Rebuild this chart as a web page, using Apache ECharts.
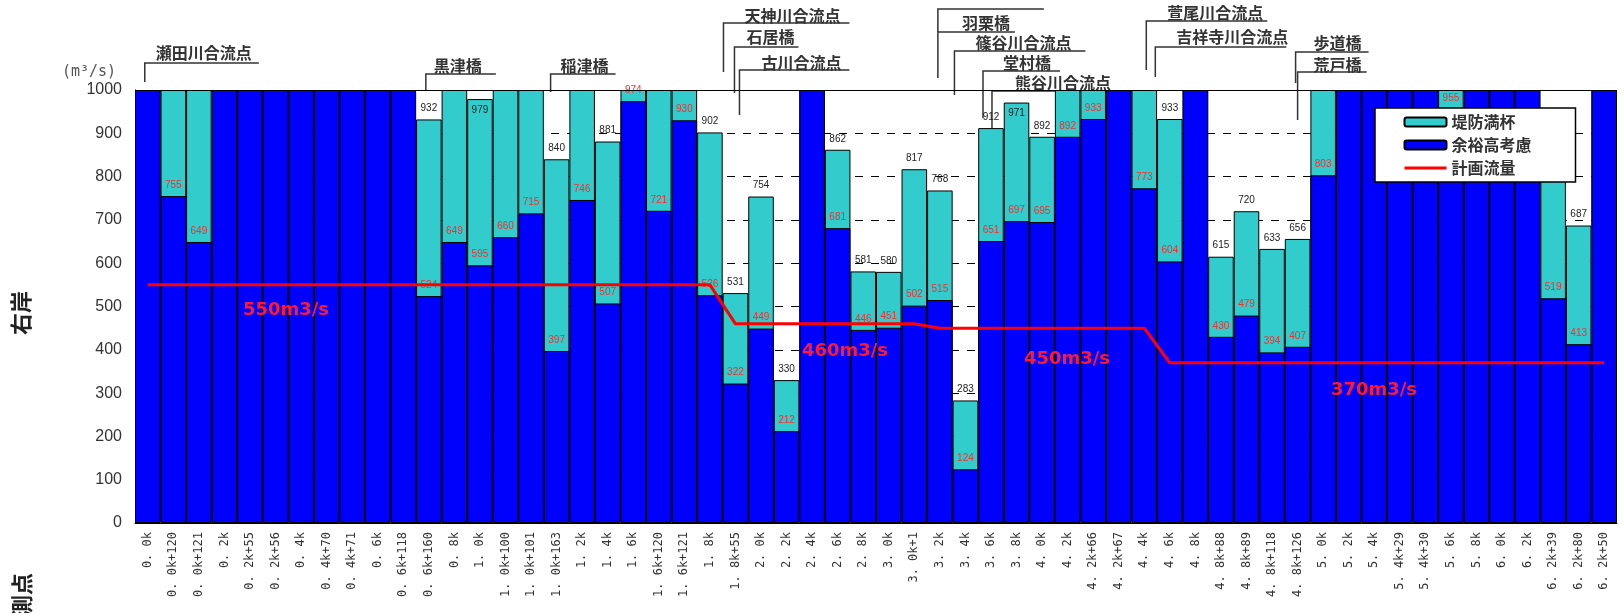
<!DOCTYPE html>
<html>
<head>
<meta charset="utf-8">
<title>右岸 流下能力</title>
<script src="https://cdn.jsdelivr.net/npm/echarts@6/dist/echarts.min.js"></script>
<style>
html, body { margin: 0; padding: 0; background: #fff; }
#main { width: 1624px; height: 613px; }
</style>
</head>
<body>
<div id="main"></div>
<script>
// 測点
var categories = ['0. 0k', '0. 0k+120', '0. 0k+121', '0. 2k', '0. 2k+55', '0. 2k+56', '0. 4k', '0. 4k+70', '0. 4k+71',
    '0. 6k', '0. 6k+118', '0. 6k+160', '0. 8k', '1. 0k', '1. 0k+100', '1. 0k+101', '1. 0k+163', '1. 2k', '1. 4k',
    '1. 6k', '1. 6k+120', '1. 6k+121', '1. 8k', '1. 8k+55', '2. 0k', '2. 2k', '2. 4k', '2. 6k', '2. 8k', '3. 0k',
    '3. 0k+1', '3. 2k', '3. 4k', '3. 6k', '3. 8k', '4. 0k', '4. 2k', '4. 2k+66', '4. 2k+67', '4. 4k', '4. 6k',
    '4. 8k', '4. 8k+88', '4. 8k+89', '4. 8k+118', '4. 8k+126', '5. 0k', '5. 2k', '5. 4k', '5. 4k+29', '5. 4k+30',
    '5. 6k', '5. 8k', '6. 0k', '6. 2k', '6. 2k+39', '6. 2k+80', '6. 2k+50'];

// 余裕高考慮 (1000 = 図の上限を超える)
var yoyuValues = [1000, 755, 649, 1000, 1000, 1000, 1000, 1000, 1000,
    1000, 1000, 524, 649, 595, 660, 715, 397, 746, 507,
    974, 721, 930, 526, 322, 449, 212, 1000, 681, 446, 451,
    502, 515, 124, 651, 697, 695, 892, 933, 1000, 773, 604,
    1000, 430, 479, 394, 407, 803, 1000, 1000, 1000, 1000,
    955, 1000, 1000, 1000, 519, 413, 1000];

// 堤防満杯
var manpaiValues = [1000, 1000, 1000, 1000, 1000, 1000, 1000, 1000, 1000,
    1000, 1000, 932, 1000, 979, 1000, 1000, 840, 1000, 881,
    1000, 1000, 1000, 902, 531, 754, 330, 1000, 862, 581, 580,
    817, 768, 283, 912, 971, 892, 1000, 1000, 1000, 1000, 933,
    1000, 615, 720, 633, 656, 1000, 1000, 1000, 1000, 1000,
    1000, 1000, 1000, 1000, 870, 687, 1000];

// 計画流量
var planValues = [550, 550, 550, 550, 550, 550, 550, 550, 550,
    550, 550, 550, 550, 550, 550, 550, 550, 550, 550,
    550, 550, 550, 550, 460, 460, 460, 460, 460, 460, 460,
    460, 450, 450, 450, 450, 450, 450, 450, 450, 450, 370,
    370, 370, 370, 370, 370, 370, 370, 370, 370, 370,
    370, 370, 370, 370, 370, 370, 370];

var planTexts = ['550m3/s', '460m3/s', '450m3/s', '370m3/s'];

// 地点名
var noteNames = ['瀬田川合流点', '黒津橋', '稲津橋', '天神川合流点', '石居橋', '古川合流点', '羽栗橋',
    '篠谷川合流点', '堂村橋', '熊谷川合流点', '萱尾川合流点', '吉祥寺川合流点', '歩道橋', '荒戸橋'];
var noteAt = ['0. 0k', '0. 6k+160', '1. 0k+163', '1. 8k+55', '1. 8k+55', '1. 8k+55', '3. 2k',
    '3. 4k', '3. 6k', '3. 6k', '4. 4k', '4. 4k', '4. 8k+126', '4. 8k+126'];

// 注記の配置 (px)
var noteLayout = [
    { dx: -3, y: 63, bottom: 82, len: 114, tx: 59, ty: 53 },
    { dx: -3, y: 74, bottom: 90, len: 70, tx: 32, ty: 66 },
    { dx: -6, y: 74, bottom: 92, len: 65, tx: 34, ty: 66 },
    { dx: -12, y: 23, bottom: 72, len: 126, tx: 69, ty: 16 },
    { dx: -1, y: 47, bottom: 93, len: 64, tx: 36, ty: 37 },
    { dx: 4, y: 70, bottom: 115, len: 110, tx: 62, ty: 63 },
    { dx: -2, y: 32, bottom: 78, len: 77, tx: 48, ty: 23, top: 9, topLen: 106 },
    { dx: -11, y: 51, bottom: 95, len: 131, tx: 69, ty: 43 },
    { dx: -8, y: 71, bottom: 118, len: 77, tx: 44, ty: 63 },
    { dx: 1, y: 91, bottom: 133, len: 128, tx: 71, ty: 83 },
    { dx: 2, y: 21, bottom: 70, len: 121, tx: 69, ty: 13 },
    { dx: 11, y: 47, bottom: 77, len: 131, tx: 77, ty: 37 },
    { dx: -2, y: 52, bottom: 83, len: 73, tx: 42, ty: 43 },
    { dx: 0, y: 72, bottom: 120, len: 69, tx: 40, ty: 65 }
];
var planTextPos = [[286, 310], [845, 351], [1067, 359], [1374, 390]];

var chart = echarts.init(document.getElementById('main'));

var manpaiItems = new Array();
var yoyuItems = new Array();
for (var i = 0; i < categories.length; i++) {
    var m = manpaiValues[i];
    var b = yoyuValues[i];
    manpaiItems.push({
        value : m,
        label : {
            show : m < 1000,
            position : m > 960 ? 'insideTop' : 'top'
        }
    });
    yoyuItems.push({
        value : b,
        label : {
            show : b < 1000 && b < m
        }
    });
}

var option = {
    animation : false,
    backgroundColor : '#fff',
    grid : {
        left : 135,
        right : 7,
        top : 90,
        bottom : 90
    },
    legend : {
        orient : 'vertical',
        left : 1375,
        top : 108,
        padding : [ 6, 44, 6, 28 ],
        itemWidth : 42,
        itemHeight : 9,
        itemGap : 7,
        backgroundColor : '#fff',
        borderColor : '#000',
        borderWidth : 1.5,
        textStyle : {
            fontSize : 16,
            fontWeight : 'bold',
            color : '#333',
            fontFamily : 'Noto Sans CJK JP'
        },
        data : [ '堤防満杯', '余裕高考慮', {
            name : '計画流量',
            itemStyle : { opacity : 0 },
            lineStyle : { color : '#ff0000', width : 3 }
        } ]
    },
    xAxis : [ {
        type : 'category',
        data : categories,
        axisLine : {
            lineStyle : { color : '#000', width : 1 }
        },
        axisTick : { show : false },
        axisLabel : {
            interval : 0,
            rotate : 90,
            margin : 9,
            fontSize : 12,
            color : '#333',
            fontFamily : 'DejaVu Sans Mono'
        }
    } ],
    yAxis : [ {
        type : 'value',
        min : 0,
        max : 1000,
        interval : 100,
        axisLine : {
            show : true,
            lineStyle : { color : '#000' }
        },
        axisTick : { show : false },
        axisLabel : {
            margin : 13,
            fontSize : 16,
            color : '#333',
            fontFamily : 'Liberation Sans',
            formatter : function(v) {
                return String(v);
            }
        },
        splitLine : {
            lineStyle : { color : '#000', type : [ 8, 8 ], width : 1 }
        }
    } ],
    series : [ {
        name : '堤防満杯',
        type : 'bar',
        data : manpaiItems,
        barWidth : '100%',
        barGap : '-100%',
        itemStyle : {
            color : '#33cccc',
            borderColor : '#000',
            borderWidth : 1
        },
        label : {
            distance : 6,
            fontSize : 10,
            color : '#222',
            fontFamily : 'Liberation Sans'
        }
    }, {
        name : '余裕高考慮',
        type : 'bar',
        data : yoyuItems,
        barWidth : '100%',
        barGap : '-100%',
        itemStyle : {
            color : '#0000ff',
            borderColor : '#000',
            borderWidth : 1
        },
        label : {
            position : 'top',
            distance : 6,
            fontSize : 10,
            color : '#ff2a2a',
            fontFamily : 'Liberation Sans'
        },
        markLine : {
            silent : true,
            symbol : 'none',
            label : { show : false },
            lineStyle : { color : '#000', type : 'solid', width : 1 },
            data : [ { yAxis : 1000 } ]
        }
    }, {
        name : '計画流量',
        type : 'line',
        data : planValues,
        symbol : 'none',
        z : 5,
        lineStyle : { color : '#ff0000', width : 3 },
        itemStyle : { color : '#ff0000' }
    } ]
};
chart.setOption(option);

/** 注記・文字 */
function drawNotes() {
    var els = new Array();
    for (var i = 0; i < noteNames.length; i++) {
        var lay = noteLayout[i];
        var x = chart.convertToPixel({ xAxisIndex : 0 }, noteAt[i]) + lay.dx;
        els.push({
            type : 'polyline',
            silent : true,
            shape : { points : [ [ x, lay.bottom ], [ x, lay.y ], [ x + lay.len, lay.y ] ] },
            style : { stroke : '#333', lineWidth : 1.5, fill : null }
        });
        if (lay.top) {
            els.push({
                type : 'polyline',
                silent : true,
                shape : { points : [ [ x, lay.y ], [ x, lay.top ], [ x + lay.topLen, lay.top ] ] },
                style : { stroke : '#333', lineWidth : 1.5, fill : null }
            });
        }
        els.push({
            type : 'text',
            silent : true,
            x : x + lay.tx,
            y : lay.ty,
            style : {
                text : noteNames[i],
                fill : '#333',
                font : 'bold 16px "Noto Sans CJK JP"',
                textAlign : 'center',
                textVerticalAlign : 'middle',
                verticalAlign : 'middle'
            }
        });
    }
    for (var k = 0; k < planTexts.length; k++) {
        els.push({
            type : 'text',
            silent : true,
            z : 10,
            x : planTextPos[k][0],
            y : planTextPos[k][1],
            style : {
                text : planTexts[k],
                fill : '#ff1a30',
                font : 'bold 18px "DejaVu Sans"',
                textAlign : 'center',
                textVerticalAlign : 'middle',
                verticalAlign : 'middle'
            }
        });
    }
    els.push({
        type : 'text', silent : true, x : 89, y : 72,
        style : {
            text : '(m³/s)', fill : '#555', font : '15px "DejaVu Sans Mono"',
            textAlign : 'center', textVerticalAlign : 'middle', verticalAlign : 'middle'
        }
    });
    els.push({
        type : 'text', silent : true, x : 21, y : 313, rotation : Math.PI / 2,
        style : {
            text : '右岸', fill : '#222', font : 'bold 22px "Noto Sans CJK JP"',
            textAlign : 'center', textVerticalAlign : 'middle', verticalAlign : 'middle'
        }
    });
    els.push({
        type : 'text', silent : true, x : 22, y : 595, rotation : Math.PI / 2,
        style : {
            text : '測点', fill : '#222', font : 'bold 22px "Noto Sans CJK JP"',
            textAlign : 'center', textVerticalAlign : 'middle', verticalAlign : 'middle'
        }
    });
    chart.setOption({ graphic : els });
}
drawNotes();
</script>
</body>
</html>
